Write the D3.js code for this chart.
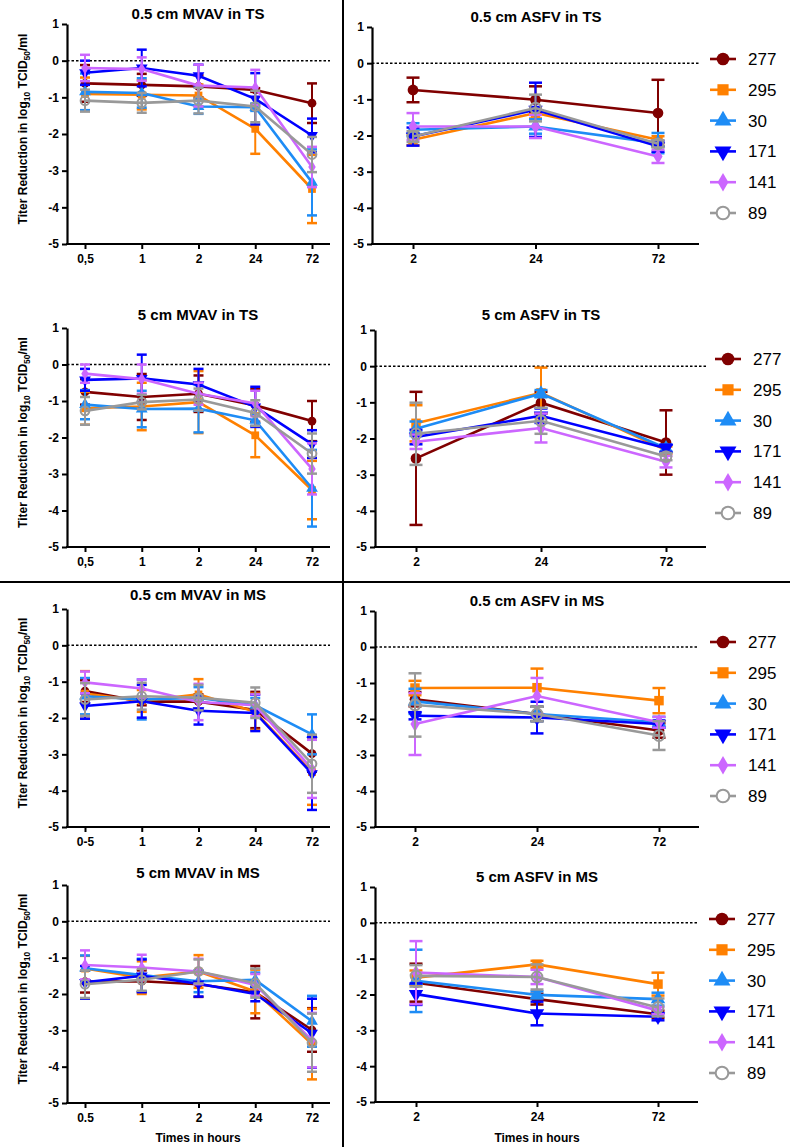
<!DOCTYPE html>
<html>
<head>
<meta charset="utf-8">
<script src="https://cdn.jsdelivr.net/npm/d3@7"></script>
<style>
  body { margin: 0; background: #fff; }
  svg { font-family: "Liberation Sans", Arial, sans-serif; }
</style>
</head>
<body>
<script>
// series (strains) in legend order
const seriesNames = ["277", "295", "30", "171", "141", "89"];
const seriesColors = ["#800000", "#ff8000", "#1e8cf5", "#0000ff", "#cc66ff", "#999999"];
const seriesSymbols = ["circle", "square", "triangle", "triangleDown", "diamond", "openCircle"];

const mvavTimes = ["0.5", "1", "2", "24", "72"];
const asfvTimes = ["2", "24", "72"];
const yTicks = [1, 0, -1, -2, -3, -4, -5];

// 0.5 cm MVAV in TS
const mvavTS05Mean = [
  [-0.62, -0.66, -0.70, -0.80, -1.16],
  [-0.91, -0.93, -0.95, -1.86, -3.50],
  [-0.85, -0.88, -1.25, -1.27, -3.32],
  [-0.33, -0.20, -0.41, -1.04, -2.04],
  [-0.20, -0.23, -0.68, -0.73, -2.90],
  [-1.09, -1.15, -1.09, -1.25, -2.56]
];
const mvavTS05Sd = [
  [0.50, 0.30, 0.30, 0.05, 0.54],
  [0.45, 0.40, 0.30, 0.68, 0.93],
  [0.50, 0.40, 0.20, 0.10, 0.90],
  [0.33, 0.50, 0.30, 0.70, 0.46],
  [0.36, 0.32, 0.57, 0.48, 0.55],
  [0.30, 0.27, 0.35, 0.43, 0.48]
];
// 5 cm MVAV in TS
const mvavTS5Mean = [
  [-0.75, -0.89, -0.80, -1.12, -1.55],
  [-1.20, -1.15, -1.03, -1.94, -3.44],
  [-1.10, -1.22, -1.21, -1.53, -3.39],
  [-0.42, -0.38, -0.55, -1.16, -2.18],
  [-0.25, -0.40, -0.80, -1.07, -2.86],
  [-1.27, -1.03, -0.96, -1.33, -2.44]
];
const mvavTS5Sd = [
  [0.35, 0.63, 0.50, 0.45, 0.55],
  [0.45, 0.65, 0.85, 0.60, 0.80],
  [0.40, 0.50, 0.65, 0.15, 1.05],
  [0.30, 0.65, 0.43, 0.55, 0.38],
  [0.25, 0.40, 0.30, 0.35, 0.70],
  [0.38, 0.20, 0.30, 0.35, 0.55]
];
// 0.5 cm MVAV in MS
const mvavMS05Mean = [
  [-1.26, -1.55, -1.55, -1.78, -2.98],
  [-1.33, -1.53, -1.35, -1.83, -3.49],
  [-1.40, -1.49, -1.45, -1.65, -2.45],
  [-1.67, -1.54, -1.80, -1.86, -3.53],
  [-1.02, -1.19, -1.56, -1.65, -3.40],
  [-1.49, -1.40, -1.44, -1.58, -3.26]
];
const mvavMS05Sd = [
  [0.30, 0.10, 0.20, 0.50, 0.50],
  [0.62, 0.30, 0.42, 0.50, 0.90],
  [0.50, 0.55, 0.30, 0.20, 0.55],
  [0.35, 0.45, 0.38, 0.50, 1.00],
  [0.30, 0.25, 0.50, 0.30, 0.80],
  [0.45, 0.37, 0.35, 0.42, 0.80]
];
// 5 cm MVAV in MS
const mvavMS5Mean = [
  [-1.66, -1.65, -1.73, -1.95, -2.99],
  [-1.30, -1.55, -1.38, -1.93, -3.38],
  [-1.29, -1.48, -1.65, -1.61, -2.75],
  [-1.68, -1.50, -1.72, -2.00, -3.08],
  [-1.20, -1.27, -1.38, -1.75, -3.27],
  [-1.73, -1.61, -1.38, -1.70, -3.34]
];
const mvavMS5Sd = [
  [0.30, 0.30, 0.35, 0.72, 0.60],
  [0.35, 0.45, 0.45, 0.60, 0.97],
  [0.35, 0.45, 0.30, 0.20, 0.70],
  [0.45, 0.45, 0.35, 0.20, 0.95],
  [0.40, 0.35, 0.35, 0.30, 0.75],
  [0.38, 0.30, 0.33, 0.40, 0.80]
];
// 0.5 cm ASFV in TS
const asfvTS05Mean = [
  [-0.74, -1.01, -1.38],
  [-2.12, -1.38, -2.12],
  [-1.84, -1.75, -2.21],
  [-2.03, -1.29, -2.30],
  [-1.75, -1.75, -2.58],
  [-2.03, -1.24, -2.23]
];
const asfvTS05Sd = [
  [0.34, 0.37, 0.92],
  [0.15, 0.15, 0.10],
  [0.18, 0.20, 0.28],
  [0.25, 0.75, 0.15],
  [0.37, 0.32, 0.18],
  [0.15, 0.37, 0.10]
];
// 5 cm ASFV in TS
const asfvTS5Mean = [
  [-2.55, -1.01, -2.11],
  [-1.58, -0.74, -2.32],
  [-1.73, -0.76, -2.27],
  [-1.96, -1.37, -2.27],
  [-2.09, -1.71, -2.64],
  [-1.87, -1.51, -2.50]
];
const asfvTS5Sd = [
  [1.84, 0.30, 0.89],
  [0.50, 0.70, 0.10],
  [0.20, 0.10, 0.10],
  [0.20, 0.20, 0.10],
  [0.20, 0.40, 0.16],
  [0.86, 0.36, 0.10]
];
// 0.5 cm ASFV in MS
const asfvMS05Mean = [
  [-1.45, -1.86, -2.32],
  [-1.14, -1.13, -1.49],
  [-1.51, -1.86, -2.09],
  [-1.91, -1.96, -2.14],
  [-2.14, -1.36, -2.09],
  [-1.61, -1.86, -2.46]
];
const asfvMS05Sd = [
  [0.20, 0.20, 0.20],
  [0.20, 0.53, 0.35],
  [0.35, 0.20, 0.15],
  [0.10, 0.44, 0.10],
  [0.86, 0.50, 0.15],
  [0.88, 0.20, 0.40]
];
// 5 cm ASFV in MS
const asfvMS5Mean = [
  [-1.67, -2.13, -2.55],
  [-1.53, -1.16, -1.71],
  [-1.62, -2.01, -2.13],
  [-1.99, -2.53, -2.62],
  [-1.39, -1.51, -2.45],
  [-1.48, -1.51, -2.36]
];
const asfvMS5Sd = [
  [0.53, 0.15, 0.10],
  [0.20, 0.10, 0.32],
  [0.87, 0.10, 0.18],
  [0.30, 0.33, 0.10],
  [0.88, 0.20, 0.10],
  [0.30, 0.35, 0.25]
];

const W = 798, H = 1147;
const svg = d3.select("body").append("svg").attr("width", W).attr("height", H);

// layout per panel
const leftCol = { axisX: 67, x0: 85, x1: 312, axisEnd: 330, cap: 10, sym: 60, cx: 198 };
const panels = [
  { title: "0.5 cm MVAV in TS", times: mvavTimes, labels: ["0,5", "1", "2", "24", "72"], mean: mvavTS05Mean, sd: mvavTS05Sd, col: leftCol, top: 24, bottom: 244, titleY: 19, yLabel: true },
  { title: "0.5 cm ASFV in TS", times: asfvTimes, labels: asfvTimes, mean: asfvTS05Mean, sd: asfvTS05Sd, col: { axisX: 372, x0: 413, x1: 658, axisEnd: 699, cap: 13, sym: 90, cx: 536 }, top: 27, bottom: 244, titleY: 22, legendY: 59, legendX: 723 },
  { title: "5 cm MVAV in TS", times: mvavTimes, labels: ["0,5", "1", "2", "24", "72"], mean: mvavTS5Mean, sd: mvavTS5Sd, col: leftCol, top: 328, bottom: 547, titleY: 320, yLabel: true },
  { title: "5 cm ASFV in TS", times: asfvTimes, labels: asfvTimes, mean: asfvTS5Mean, sd: asfvTS5Sd, col: { axisX: 375, x0: 416, x1: 666, axisEnd: 706, cap: 13, sym: 90, cx: 541 }, top: 330, bottom: 547, titleY: 320, legendY: 359, legendX: 728 },
  { title: "0.5 cm MVAV in MS", times: mvavTimes, labels: ["0-5", "1", "2", "24", "72"], mean: mvavMS05Mean, sd: mvavMS05Sd, col: leftCol, top: 609, bottom: 827, titleY: 600, yLabel: true },
  { title: "0.5 cm ASFV in MS", times: asfvTimes, labels: asfvTimes, mean: asfvMS05Mean, sd: asfvMS05Sd, col: { axisX: 375, x0: 415, x1: 659, axisEnd: 699, cap: 13, sym: 90, cx: 537 }, top: 611, bottom: 827, titleY: 606, legendY: 642, legendX: 723 },
  { title: "5 cm MVAV in MS", times: mvavTimes, labels: ["0.5", "1", "2", "24", "72"], mean: mvavMS5Mean, sd: mvavMS5Sd, col: leftCol, top: 885, bottom: 1103, titleY: 878, yLabel: true, xLabel: true },
  { title: "5 cm ASFV in MS", times: asfvTimes, labels: asfvTimes, mean: asfvMS5Mean, sd: asfvMS5Sd, col: { axisX: 375, x0: 416, x1: 658, axisEnd: 698, cap: 13, sym: 90, cx: 537 }, top: 887, bottom: 1102, titleY: 882, legendY: 919, legendX: 722, xLabel: true }
];

function symbolPath(name, size) {
  const types = {
    circle: d3.symbolCircle, openCircle: d3.symbolCircle, square: d3.symbolSquare,
    triangle: d3.symbolTriangle, triangleDown: d3.symbolTriangle, diamond: d3.symbolDiamond
  };
  return d3.symbol().type(types[name]).size(size)();
}

function drawMarker(g, i, x, y, size, legend) {
  const name = seriesSymbols[i];
  const p = g.append("path")
    .attr("d", symbolPath(name, name === "diamond" ? size * 0.8 : size))
    .attr("transform", `translate(${x},${y})` + (name === "triangleDown" ? " rotate(180)" : ""));
  if (name === "openCircle") {
    p.attr("fill", legend ? "#fff" : "none").attr("stroke", seriesColors[i]).attr("stroke-width", 2);
  } else {
    p.attr("fill", seriesColors[i]);
  }
}

panels.forEach((pn) => {
  const c = pn.col;
  const x = d3.scalePoint().domain(pn.times).range([c.x0, c.x1]);
  const y = d3.scaleLinear().domain([-5, 1]).range([pn.bottom, pn.top]);
  const g = svg.append("g");

  // title
  g.append("text")
    .attr("x", c.cx).attr("y", pn.titleY)
    .attr("text-anchor", "middle")
    .attr("font-size", 15).attr("font-weight", "bold")
    .text(pn.title);

  // y axis
  const yAxis = g.append("g")
    .attr("transform", `translate(${c.axisX},0)`)
    .call(d3.axisLeft(y).tickValues(yTicks).tickSize(5).tickSizeOuter(0).tickPadding(3)
      .tickFormat((d) => String(d)));
  yAxis.select(".domain").attr("stroke-width", 2.2);
  yAxis.selectAll(".tick line").attr("stroke-width", 2);
  yAxis.selectAll(".tick text").attr("font-size", 12).attr("font-weight", "bold")
    .attr("font-family", "'Liberation Sans', Arial, sans-serif").attr("fill", "#000");

  // x axis
  const xAxis = g.append("g")
    .attr("transform", `translate(0,${pn.bottom})`)
    .call(d3.axisBottom(x).tickSize(5).tickSizeOuter(0).tickPadding(5)
      .tickFormat((d, i) => pn.labels[i]));
  xAxis.select(".domain").remove();
  xAxis.selectAll(".tick line").attr("stroke-width", 2);
  xAxis.selectAll(".tick text").attr("font-size", 12).attr("font-weight", "bold")
    .attr("font-family", "'Liberation Sans', Arial, sans-serif").attr("fill", "#000");
  g.append("line")
    .attr("x1", c.axisX - 1).attr("x2", c.axisEnd)
    .attr("y1", pn.bottom).attr("y2", pn.bottom)
    .attr("stroke", "#000").attr("stroke-width", 2.2);

  // zero reference line
  g.append("line")
    .attr("x1", c.axisX).attr("x2", c.axisEnd)
    .attr("y1", y(0)).attr("y2", y(0))
    .attr("stroke", "#000").attr("stroke-width", 1.5)
    .attr("stroke-dasharray", "2.5,2");

  if (pn.yLabel) {
    const t = g.append("text")
      .attr("transform", `translate(27,${(pn.top + pn.bottom) / 2 - 5}) rotate(-90)`)
      .attr("text-anchor", "middle")
      .attr("font-size", 12).attr("font-weight", "bold");
    t.append("tspan").text("Titer Reduction in log");
    t.append("tspan").attr("font-size", 8.5).attr("dy", 3).text("10");
    t.append("tspan").attr("dy", -3).text(" TCID");
    t.append("tspan").attr("font-size", 8.5).attr("dy", 3).text("50");
    t.append("tspan").attr("dy", -3).text("/ml");
  }
  if (pn.xLabel) {
    g.append("text")
      .attr("x", c.cx).attr("y", 1142)
      .attr("text-anchor", "middle")
      .attr("font-size", 12).attr("font-weight", "bold")
      .text("Times in hours");
  }

  // series: error bars, line, markers
  const line = d3.line().x((d) => x(d.t)).y((d) => y(d.v));
  seriesNames.forEach((s, i) => {
    const pts = pn.times.map((t, j) => ({ t, v: pn.mean[i][j], sd: pn.sd[i][j] }));
    const sg = g.append("g").attr("stroke", seriesColors[i]);
    pts.forEach((d) => {
      const px = x(d.t);
      sg.append("line").attr("x1", px).attr("x2", px)
        .attr("y1", y(d.v + d.sd)).attr("y2", y(d.v - d.sd)).attr("stroke-width", 2);
      [d.v + d.sd, d.v - d.sd].forEach((v) => {
        sg.append("line").attr("x1", px - c.cap / 2).attr("x2", px + c.cap / 2)
          .attr("y1", y(v)).attr("y2", y(v)).attr("stroke-width", 2.5);
      });
    });
    sg.append("path").datum(pts).attr("d", line)
      .attr("fill", "none").attr("stroke-width", 2.6);
    pts.forEach((d) => drawMarker(g, i, x(d.t), y(d.v), c.sym, false));
  });

  // legend
  if (pn.legendY) {
    seriesNames.forEach((s, i) => {
      const ly = pn.legendY + i * 30.8;
      g.append("line")
        .attr("x1", pn.legendX - 13).attr("x2", pn.legendX + 13)
        .attr("y1", ly).attr("y2", ly)
        .attr("stroke", seriesColors[i]).attr("stroke-width", 2.6);
      drawMarker(g, i, pn.legendX, ly, 125, true);
      g.append("text")
        .attr("x", pn.legendX + 25).attr("y", ly + 6)
        .attr("font-size", 17)
        .text(s);
    });
  }
});

// panel dividers
svg.append("line").attr("x1", 343).attr("x2", 343).attr("y1", 0).attr("y2", H)
  .attr("stroke", "#000").attr("stroke-width", 2);
svg.append("line").attr("x1", 0).attr("x2", 790).attr("y1", 582).attr("y2", 582)
  .attr("stroke", "#000").attr("stroke-width", 2);
</script>
</body>
</html>
